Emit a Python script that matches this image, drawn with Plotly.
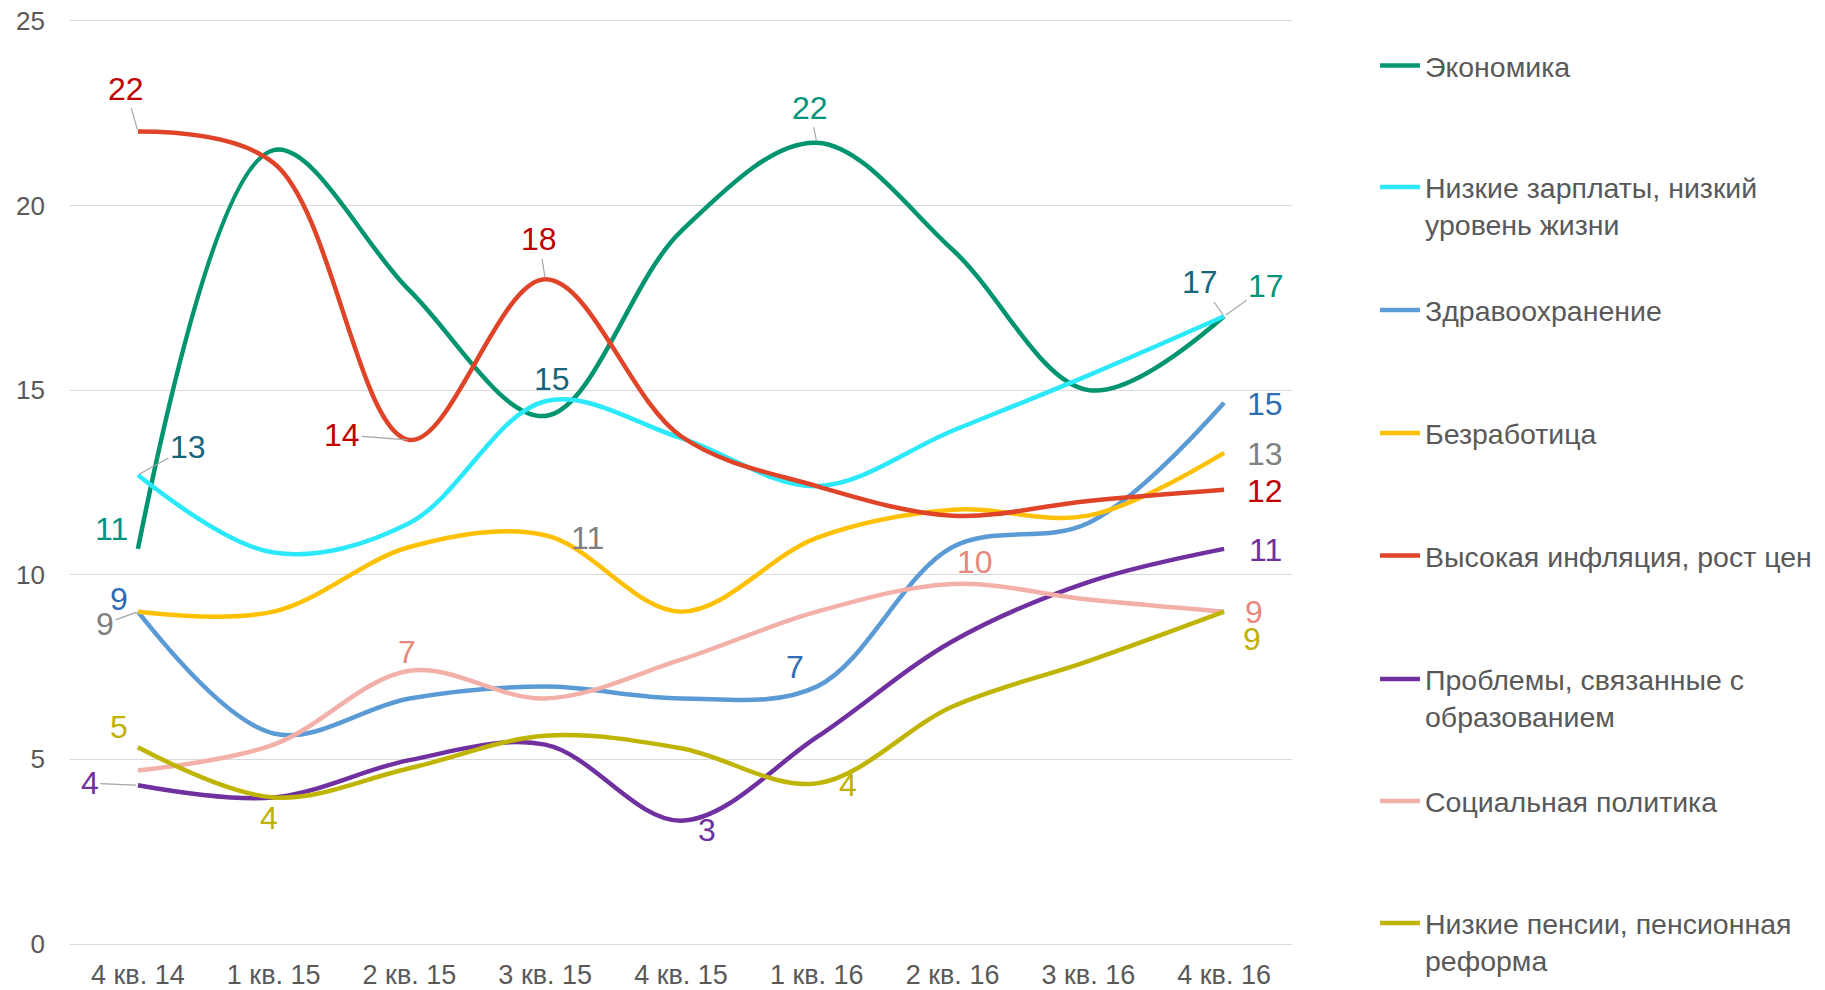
import plotly.graph_objects as go

categories = ["4 кв. 14", "1 кв. 15", "2 кв. 15", "3 кв. 15", "4 кв. 15",
              "1 кв. 16", "2 кв. 16", "3 кв. 16", "4 кв. 16"]

names = [
    "Экономика",
    "Низкие зарплаты, низкий<br>уровень жизни",
    "Здравоохранение",
    "Безработица",
    "Высокая инфляция, рост цен",
    "Проблемы, связанные с<br>образованием",
    "Социальная политика",
    "Низкие пенсии, пенсионная<br>реформа",
]

economy    = [10.7, 21.5, 17.7, 14.3, 19.3, 21.7, 18.8, 15.0, 17.0]
low_wages  = [12.7, 10.6, 11.4, 14.7, 13.7, 12.4, 13.9, 15.4, 17.0]
health     = [9.0, 5.7, 6.65, 6.97, 6.65, 6.97, 10.75, 11.4, 14.66]
unemploy   = [9.0, 9.0, 10.75, 11.07, 9.0, 11.0, 11.76, 11.6, 13.3]
inflation  = [22.0, 21.15, 13.65, 18.0, 13.75, 12.4, 11.6, 12.0, 12.3]
education  = [4.3, 3.97, 4.98, 5.4, 3.34, 5.6, 8.2, 9.8, 10.7]
social     = [4.7, 5.4, 7.4, 6.65, 7.7, 9.0, 9.75, 9.33, 9.0]
pensions   = [5.33, 3.97, 4.76, 5.64, 5.3, 4.35, 6.43, 7.66, 9.0]

series = [economy, low_wages, health, unemploy, inflation, education, social, pensions]

line_colors = ["#00956F", "#2BE9FB", "#5B9BD5", "#FFC000",
               "#DF4428", "#7030A0", "#F2B0A8", "#BFB500"]
label_colors = ["#00957A", "#17657A", "#2E6DB4", "#808080",
                "#C00000", "#7030A0", "#E8887A", "#BFB100"]

# label placement: (point index, dx px, dy px (down +), leader line)
label_specs = [
    [(0, -26, -20, False), (5, -7, -35, True), (8, 42, -30, True)],
    [(0, 50, -28, True), (3, 7, -22, False), (8, -24, -34, True)],
    [(0, -19, -13, False), (5, -22, -20, False), (8, 41, 1, False)],
    [(0, -33, 12, True), (3, 42, 3, False), (8, 41, 1, False)],
    [(0, -12, -43, True), (2, -67, -5, True), (3, -6, -40, True), (8, 41, 1, False)],
    [(0, -48, -2, True), (4, 26, 9, False), (8, 41, 1, False)],
    [(2, -2, -19, False), (6, 22, -22, False), (8, 30, 0, False)],
    [(0, -19, -20, False), (1, -5, 21, False), (5, 31, 2, False), (8, 28, 27, False)],
]

# page body adds an 8px offset; all pixel positions below are in figure coords
legend_centers_px = [59.5, 181, 304, 427, 549.5, 673, 795, 917]

W, H = 1817, 982
ML, MR, MT, MB = 62, 533, 11, 46
plot_h = H - MT - MB
plot_w = W - ML - MR

FONT = "Liberation Sans, Arial, sans-serif"

fig = go.Figure()
layout_legends = {}
for i, (name, vals) in enumerate(zip(names, series)):
    leg = "legend" if i == 0 else f"legend{i+1}"
    fig.add_trace(go.Scatter(
        x=categories, y=vals, mode="lines", name=name,
        line=dict(color=line_colors[i], width=4.5, shape="spline", smoothing=1),
        legend=leg, hoverinfo="x+y+name",
    ))
    top_px = legend_centers_px[i] - 27
    layout_legends[leg] = dict(
        x=(1367 - ML) / plot_w, xanchor="left",
        y=(H - MB - top_px) / plot_h, yanchor="top",
        font=dict(family=FONT, size=28.5, color="#595959"),
        bgcolor="rgba(0,0,0,0)", borderwidth=0,
        valign="top", itemwidth=40,
    )

annotations = []
for i, specs in enumerate(label_specs):
    for (idx, dx, dy, leader) in specs:
        txt = str(int(round(series[i][idx])))
        base = dict(x=categories[idx], y=series[i][idx], xref="x", yref="y",
                    text=txt, font=dict(family=FONT, size=32, color=label_colors[i]))
        if leader:
            base.update(showarrow=True, ax=dx, ay=dy, arrowhead=0, arrowwidth=1.2,
                        arrowcolor="#A6A6A6", standoff=2)
        else:
            base.update(showarrow=False, xshift=dx, yshift=-dy)
        annotations.append(base)

fig.update_layout(
    width=W, height=H,
    margin=dict(l=ML, r=MR, t=MT, b=MB, autoexpand=False),
    paper_bgcolor="white", plot_bgcolor="white",
    showlegend=True,
    annotations=annotations,
    xaxis=dict(type="category", range=[-0.5, 8.5], showgrid=False, zeroline=False,
               showline=False, tickfont=dict(family=FONT, size=27, color="#595959"),
               ticks="", ticklabelstandoff=12, automargin=False,
               ticklabeloverflow="allow"),
    yaxis=dict(range=[0, 25.05], tickvals=[0, 5, 10, 15, 20, 25],
               showgrid=True, gridcolor="#D9D9D9", gridwidth=1.3,
               zeroline=True, zerolinecolor="#D9D9D9", zerolinewidth=1.3, showline=False,
               tickfont=dict(family=FONT, size=26, color="#595959"),
               ticks="", ticklabelstandoff=24, automargin=False,
               ticklabeloverflow="allow"),
    **layout_legends,
)

fig.write_html("out.html")
